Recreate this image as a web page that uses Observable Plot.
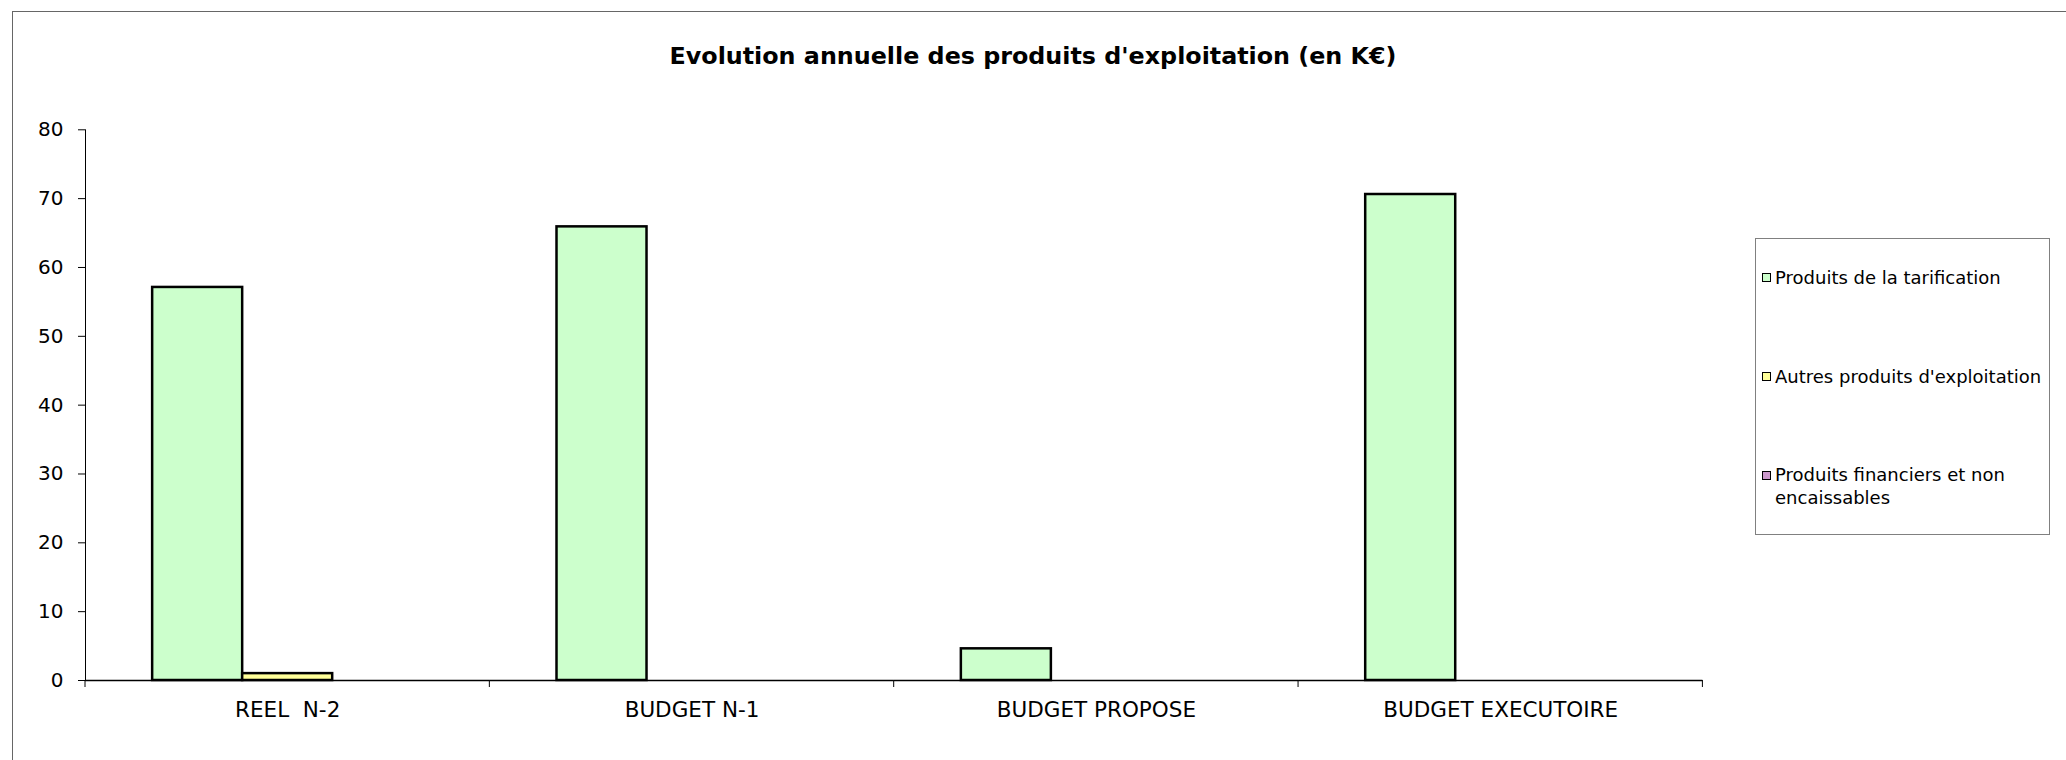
<!DOCTYPE html>
<html>
<head>
<meta charset="utf-8">
<script src="https://cdn.jsdelivr.net/npm/d3@7"></script>
<script src="https://cdn.jsdelivr.net/npm/@observablehq/plot@0.6"></script>
<style>
  html, body { margin: 0; padding: 0; background: #fff; }
  #wrap { position: relative; width: 2066px; height: 760px; overflow: hidden; font-family: "DejaVu Sans", Verdana, sans-serif; color: #000; }
  #frame { position: absolute; left: 12px; top: 11px; width: 2200px; height: 900px; border-left: 1.5px solid #666; border-top: 1.5px solid #666; box-sizing: border-box; pointer-events: none; }
  #title { position: absolute; left: 0; width: 2066px; top: 45px; text-align: center; font-weight: bold; font-size: 23.8px; line-height: 23.8px; white-space: nowrap; }
  #chart { position: absolute; left: 0; top: 100px; }
  #chart svg text { white-space: pre; }
  #chart svg [aria-label^="fx-axis"] text { font-size: 21.5px; }
  #legend { position: absolute; left: 1755px; top: 238px; width: 295px; height: 297px; border: 1px solid #808080; box-sizing: border-box; background: #fff; }
  .item { position: absolute; left: 6px; width: 286px; font-size: 18px; line-height: 22.4px; display: flex; align-items: flex-start; }
  .sw { flex: 0 0 auto; width: 7px; height: 7px; border: 1.5px solid #000; margin-top: 6.5px; margin-right: 4px; }
  .lt { width: 272px; }
</style>
</head>
<body>
<div id="wrap">
  <div id="frame"></div>
  <div id="title"></div>
  <div id="chart"></div>
  <div id="legend"></div>
</div>
<script>
// ---- Data ----
const titleText = "Evolution annuelle des produits d'exploitation (en K€)";
const categories = ["REEL  N-2", "BUDGET N-1", "BUDGET PROPOSE", "BUDGET EXECUTOIRE"];
const seriesNames = ["Produits de la tarification", "Autres produits d'exploitation", "Produits financiers et non encaissables"];
const seriesColors = ["#CCFFCC", "#FFFF99", "#CC99CC"];
const tarification = [57.1, 65.9, 4.6, 70.6];
const autresProduits = [1.0, 0, 0, 0];
const produitsFinanciers = [0, 0, 0, 0];
const yTicks = [0, 10, 20, 30, 40, 50, 60, 70, 80];

const seriesValues = [tarification, autresProduits, produitsFinanciers];
const data = [];
categories.forEach((c, i) => {
  seriesNames.forEach((s, j) => {
    data.push({category: c, series: s, value: seriesValues[j][i]});
  });
});
const barData = data.filter(d => d.value > 0);

document.getElementById("title").textContent = titleText;

const chart = Plot.plot({
  width: 2066,
  height: 660,
  marginLeft: 85,
  marginRight: 363.6,
  marginTop: 29.3,
  marginBottom: 80,
  style: {fontFamily: "'DejaVu Sans', Verdana, sans-serif", fontSize: "20px", color: "#000", background: "transparent", overflow: "visible"},
  facet: {data: barData, x: "category"},
  fx: {domain: categories, padding: 0, round: false, label: null, tickSize: 0, tickPadding: 21},
  x: {domain: seriesNames, paddingInner: 0, paddingOuter: 0.746, round: false, axis: null},
  y: {domain: [0, 80], ticks: yTicks, tickSize: 7, tickPadding: 15, line: true, label: null, grid: false},
  color: {domain: seriesNames, range: seriesColors},
  marks: [
    Plot.barY(barData, {x: "series", y: "value", fill: "series", stroke: "#000", strokeWidth: 2.5}),
    Plot.ruleY([0], {stroke: "#000", strokeWidth: 1.5})
  ]
});
document.getElementById("chart").appendChild(chart);

// Category boundary ticks on the x axis, from the library's fx and y scales
const fxs = chart.scale("fx");
const ys = chart.scale("y");
const y0 = ys.apply ? ys.apply(0) : 660 - 80;
const r0 = Math.min(...fxs.range), r1 = Math.max(...fxs.range);
const step = (r1 - r0) / categories.length;
const bounds = categories.map((c, i) => (fxs.apply ? fxs.apply(c) : r0 + i * step));
bounds.push(r1);
const svg = d3.select(chart.tagName.toLowerCase() === "svg" ? chart : chart.querySelector("svg"));
svg.append("g").attr("aria-label", "x boundary ticks")
  .selectAll("line").data(bounds).join("line")
  .attr("x1", d => d).attr("x2", d => d)
  .attr("y1", y0).attr("y2", y0 + 7)
  .attr("stroke", "#000").attr("stroke-width", 1);

// Legend
const legend = d3.select("#legend");
const itemTops = [27.5, 126.8, 225.1];
seriesNames.forEach((s, i) => {
  const it = legend.append("div").attr("class", "item").style("top", itemTops[i] + "px");
  it.append("div").attr("class", "sw").style("background", seriesColors[i]);
  it.append("div").attr("class", "lt").text(s);
});
</script>
</body>
</html>
